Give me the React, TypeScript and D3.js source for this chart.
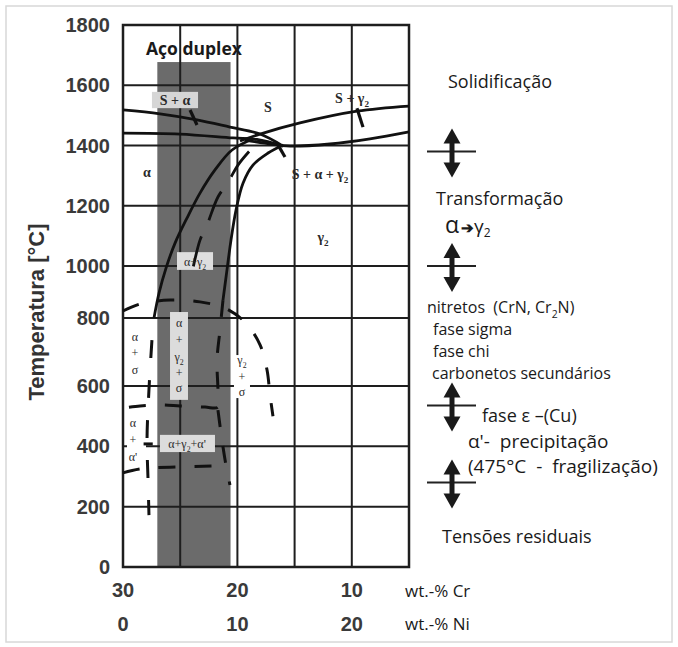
import * as d3 from "d3";

const W = 678;
const H = 647;

// axes
const tempTicks = [0, 200, 400, 600, 800, 1000, 1200, 1400, 1600, 1800];
const crGrid = [30, 25, 20, 15, 10, 5];
const crLabels = [30, 20, 10];
const niLabels = [0, 10, 20];

// duplex steel composition band (wt.-% Cr) and its top (°C)
const duplexCr = [27.0, 20.6];
const duplexTop = 1677;

// solid boundaries, [wt.-% Cr, °C]
const liquidusAlpha = [[30, 1518], [26.77, 1505], [23.53, 1485], [20.65, 1461], [18.02, 1438], [16.01, 1398]];
const solidusAlpha = [[30, 1441], [25.02, 1438], [20.38, 1425], [18.29, 1420], [16.01, 1398]];
const liquidusGamma = [[5, 1531], [9.55, 1514], [14.53, 1475], [18.02, 1438], [19.77, 1415]];
const solidusGamma = [[5, 1445], [8.41, 1422], [11.91, 1405], [15.4, 1398], [17.59, 1408], [19.34, 1418]];
const alphaSolvus = [[18.72, 1421], [20.47, 1385], [21.96, 1319], [23.27, 1242], [24.41, 1159], [25.45, 1076], [26.24, 992], [26.85, 896], [27.29, 800]];
const gammaSolvus = [[16.01, 1402], [17.32, 1375], [18.64, 1335], [19.51, 1275], [20.12, 1186], [20.56, 1086], [20.91, 985], [21.26, 869]];

// dashed boundaries
const alphaGammaDash = [[18.98, 1380], [19.95, 1335], [20.82, 1278], [21.7, 1229], [22.66, 1136], [23.27, 1086], [24.14, 938]];
const sigmaNose = [[30, 827], [28.51, 854], [25.89, 869], [23.27, 862], [21.08, 838], [19.34, 788], [18.02, 721], [17.41, 647], [17.15, 570], [16.89, 500]];
const sigmaAlpha = [[27.47, 735], [27.73, 588], [27.9, 421], [27.81, 288], [27.73, 172]];
const sigmaGamma = [[21.26, 869], [21.52, 765], [21.78, 677], [21.7, 588], [21.7, 530], [22.83, 530], [25.02, 534], [26.77, 537], [28.51, 534], [30, 527]];
const alphaPrimeRight = [[21.7, 520], [21.35, 421], [21.0, 338], [20.65, 272]];
const alphaPrimeLow = [[30, 312], [28.51, 325], [25.89, 331], [21.78, 335]];
const shortDash = [[28.2, 408], [27.4, 408]];

// tie-line ticks
const ticks = [
  [[24.14, 1518], [23.53, 1468]],
  [[9.55, 1524], [9.02, 1461]],
  [[16.54, 1408], [15.84, 1362]],
];

// label backgrounds [Cr0, Cr1, T0, T1, fill]
const labelBoxes = [
  [27.47, 23.44, 1578, 1524, "#d6d6d6"],
  [25.28, 22.13, 1046, 985, "#dedede"],
  [25.89, 24.32, 823, 554, "#dcdcdc"],
  [26.77, 21.96, 438, 381, "#dcdcdc"],
  [20.3, 18.9, 691, 560, "#ffffff"],
  [29.65, 27.99, 505, 338, "#ffffff"],
];

// phase labels
const phaseLabels = [
  { t: "S + α", cr: 25.45, temp: 1551, bold: true },
  { t: "S", cr: 17.33, temp: 1528, bold: true },
  { t: "S + γ_2", cr: 9.98, temp: 1558, bold: true },
  { t: "S + α + γ_2", cr: 12.78, temp: 1305, bold: true },
  { t: "α", cr: 27.9, temp: 1312, bold: true },
  { t: "γ_2", cr: 12.52, temp: 1096, bold: true },
  { t: "α+γ_2", cr: 23.7, temp: 1013 },
  { t: "α", cr: 25.1, temp: 785 },
  { t: "+", cr: 25.1, temp: 735 },
  { t: "γ_2", cr: 25.1, temp: 685 },
  { t: "+", cr: 25.1, temp: 638 },
  { t: "σ", cr: 25.1, temp: 594 },
  { t: "α", cr: 28.95, temp: 744 },
  { t: "+", cr: 28.95, temp: 697 },
  { t: "σ", cr: 28.95, temp: 647 },
  { t: "γ_2", cr: 19.6, temp: 677 },
  { t: "+", cr: 19.6, temp: 627 },
  { t: "σ", cr: 19.6, temp: 582 },
  { t: "α", cr: 29.13, temp: 477 },
  { t: "+", cr: 29.13, temp: 421 },
  { t: "α'", cr: 29.13, temp: 365 },
  { t: "α+γ_2+α'", cr: 24.4, temp: 408 },
];

// temperatures of the process arrows on the right
const arrowTemps = [1380, 1000, 535, 280];

const x = d3.scaleLinear().domain([30, 5]).range([123, 409]);
const xNi = d3.scaleLinear().domain([0, 25]).range([123, 409]);
const y = d3.scaleLinear().domain([0, 600, 800, 1000, 1800]).range([567, 386, 318, 266, 25]);

const line = d3
  .line<number[]>()
  .x((d) => x(d[0]))
  .y((d) => y(d[1]))
  .curve(d3.curveCatmullRom.alpha(0.5));

function withSub(s: string, fs: number) {
  const parts = s.split(/_(.)/);
  return parts.map((p, i) =>
    i % 2 === 1 ? (
      <tspan key={i} dy={fs * 0.3} fontSize={fs * 0.65}>{p}</tspan>
    ) : (
      <tspan key={i} dy={i === 0 ? 0 : -fs * 0.3}>{p}</tspan>
    )
  );
}

function DoubleArrow({ cy }: any) {
  const cx = 452;
  const top = cy - 23;
  const bot = cy + 26;
  return (
    <g>
      <line x1={427} x2={476} y1={cy} y2={cy} stroke="#222" strokeWidth={2} />
      <rect x={cx - 2.5} y={top + 12} width={5} height={bot - top - 24} fill="#1a1a1a" />
      <path d={`M${cx},${top} L${cx - 8.5},${top + 15} L${cx + 8.5},${top + 15} Z`} fill="#1a1a1a" />
      <path d={`M${cx},${bot} L${cx - 8.5},${bot - 15} L${cx + 8.5},${bot - 15} Z`} fill="#1a1a1a" />
    </g>
  );
}

export default function App() {
  const solid = [liquidusAlpha, solidusAlpha, liquidusGamma, solidusGamma, alphaSolvus, gammaSolvus];
  const dashed = [sigmaNose, sigmaGamma, alphaPrimeRight, alphaPrimeLow, shortDash];
  const note = { fontFamily: "'Open Sans', sans-serif", fill: "#1a1a1a" } as any;

  return (
    <svg width={W} height={H} style={{ position: "absolute", left: 0, top: 0, background: "#fff" }}>
      <rect x={6} y={6} width={666} height={636} fill="#fff" stroke="#d8d8d8" strokeWidth={1.5} />

      {/* duplex band */}
      <rect
        x={x(duplexCr[0])}
        y={y(duplexTop)}
        width={x(duplexCr[1]) - x(duplexCr[0])}
        height={y(0) - y(duplexTop)}
        fill="#6b6b6b"
      />
      <text x={(x(duplexCr[0]) + x(duplexCr[1])) / 2} y={55} textAnchor="middle"
        fontFamily="'Open Sans', sans-serif" fontWeight="bold" fontSize={17.5} fill="#1a1a1a">
        Aço duplex
      </text>

      {/* grid */}
      {tempTicks.map((t) => (
        <line key={"h" + t} x1={x(30)} x2={x(5)} y1={y(t)} y2={y(t)} stroke="#1e1e1e" strokeWidth={2} />
      ))}
      {crGrid.map((c) => (
        <line key={"v" + c} x1={x(c)} x2={x(c)} y1={y(1800)} y2={y(0)} stroke="#1e1e1e" strokeWidth={2} />
      ))}
      <rect x={x(30)} y={y(1800)} width={x(5) - x(30)} height={y(0) - y(1800)} fill="none" stroke="#1e1e1e" strokeWidth={2.5} />

      {/* label backgrounds */}
      {labelBoxes.map((b: any, i) => (
        <rect key={"b" + i} x={x(b[0])} y={y(b[2])} width={x(b[1]) - x(b[0])} height={y(b[3]) - y(b[2])} fill={b[4]} />
      ))}

      {/* phase boundaries */}
      {solid.map((d, i) => (
        <path key={"s" + i} d={line(d) as string} fill="none" stroke="#111" strokeWidth={2.8} />
      ))}
      <path d={line(alphaGammaDash) as string} fill="none" stroke="#111" strokeWidth={2.8} strokeDasharray="31 18" />
      <path d={line(sigmaAlpha) as string} fill="none" stroke="#111" strokeWidth={3} strokeDasharray="18 22" />
      {dashed.map((d, i) => (
        <path key={"d" + i} d={line(d) as string} fill="none" stroke="#111" strokeWidth={3} strokeDasharray="17 19" />
      ))}
      {ticks.map((d, i) => (
        <path key={"t" + i} d={line(d) as string} fill="none" stroke="#111" strokeWidth={3.2} />
      ))}

      {/* phase labels */}
      {phaseLabels.map((l, i) => {
        const fs = l.bold ? 14 : 12;
        return (
          <text key={"l" + i} x={x(l.cr)} y={y(l.temp) + fs * 0.35} textAnchor="middle"
            fontFamily="'Liberation Serif', serif" fontWeight={l.bold ? "bold" : "normal"}
            fontSize={fs} fill="#2a2a2a" style={{ whiteSpace: "pre" }}>
            {withSub(l.t, fs)}
          </text>
        );
      })}

      {/* y axis */}
      {tempTicks.map((t) => (
        <text key={"yt" + t} x={110} y={y(t) + 7} textAnchor="end" fontFamily="'Liberation Sans', Arial, sans-serif"
          fontWeight="bold" fontSize={20} fill="#3a3a3a">
          {t}
        </text>
      ))}
      <text transform="translate(44,312) rotate(-90)" textAnchor="middle" fontFamily="'Liberation Sans', Arial, sans-serif"
        fontWeight="bold" fontSize={22} fill="#333">
        Temperatura [°C]
      </text>

      {/* x axes */}
      {crLabels.map((c) => (
        <text key={"cr" + c} x={x(c)} y={597} textAnchor="middle" fontFamily="'Liberation Sans', Arial, sans-serif"
          fontWeight="bold" fontSize={20} fill="#3a3a3a">
          {c}
        </text>
      ))}
      {niLabels.map((n) => (
        <text key={"ni" + n} x={xNi(n)} y={631} textAnchor="middle" fontFamily="'Liberation Sans', Arial, sans-serif"
          fontWeight="bold" fontSize={20} fill="#3a3a3a">
          {n}
        </text>
      ))}
      <text x={405} y={597} fontSize={17} {...note}>wt.-% Cr</text>
      <text x={405} y={630} fontSize={17} {...note}>wt.-% Ni</text>

      {/* process annotations */}
      {arrowTemps.map((t) => (
        <DoubleArrow key={"a" + t} cy={y(t)} />
      ))}
      <text x={448} y={88} fontSize={18} {...note}>Solidificação</text>
      <text x={436} y={205} fontSize={18} {...note}>Transformação</text>
      <text x={445} y={233} {...note}>
        <tspan fontSize={23}>α</tspan>
        <tspan fontSize={15} fontWeight="bold" dx={2}>➔</tspan>
        <tspan fontSize={19}>γ</tspan>
        <tspan fontSize={12} dy={4}>2</tspan>
      </text>
      <text x={427} y={313} fontSize={16} {...note} style={{ whiteSpace: "pre" }}>
        {withSub("nitretos  (CrN, Cr_2N)", 16)}
      </text>
      <text x={433} y={335} fontSize={16} {...note}>fase sigma</text>
      <text x={433} y={357} fontSize={16} {...note}>fase chi</text>
      <text x={432} y={379} fontSize={16} {...note}>carbonetos secundários</text>
      <text x={482} y={422} fontSize={18} {...note} style={{ whiteSpace: "pre" }}>fase ε –(Cu)</text>
      <text x={468} y={448} fontSize={19} {...note} style={{ whiteSpace: "pre" }}>α'-  precipitação</text>
      <text x={468} y={473} fontSize={19} {...note} style={{ whiteSpace: "pre" }}>(475°C  -  fragilização)</text>
      <text x={442} y={543} fontSize={18} {...note}>Tensões residuais</text>
    </svg>
  );
}
